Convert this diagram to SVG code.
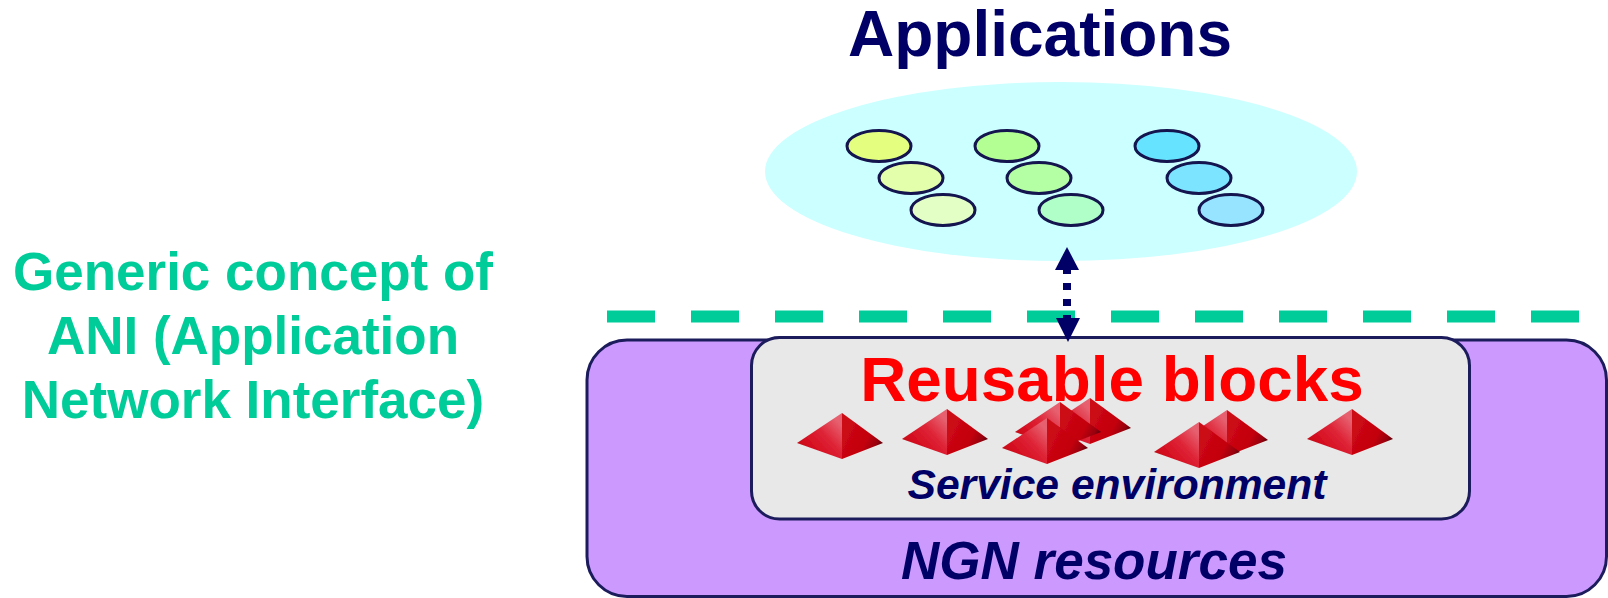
<svg xmlns="http://www.w3.org/2000/svg" width="1608" height="598" viewBox="0 0 1608 598">
<style>
text{font-family:"Liberation Sans",Arial,sans-serif;font-weight:bold}
.navy{fill:#000066}
.green{fill:#00cc99;font-size:53px;text-anchor:middle}
.box{stroke:#1c1c5c;stroke-width:3}
.app{stroke:#14144f;stroke-width:3}
</style>
<defs>
<linearGradient id="gl" x1="0.95" y1="0.25" x2="0.2" y2="0.95"><stop offset="0" stop-color="#e6606f"/><stop offset="0.4" stop-color="#de2436"/><stop offset="0.8" stop-color="#d40c1e"/><stop offset="1" stop-color="#b80814"/></linearGradient>
<linearGradient id="gr" x1="0.1" y1="0.2" x2="1" y2="0.7"><stop offset="0" stop-color="#cc0a16"/><stop offset="0.6" stop-color="#c4000c"/><stop offset="0.85" stop-color="#98000a"/><stop offset="1" stop-color="#4a0006"/></linearGradient>
<filter id="soft" x="-5%" y="-5%" width="110%" height="110%"><feGaussianBlur stdDeviation="0.700"/></filter>
<g id="pyr" filter="url(#soft)">
<path fill="url(#gl)" d="M0 0L-45 30L0 46L1 23Z"/>
<path fill="url(#gr)" d="M0 0L41 30L0 46Z"/>
</g>
</defs>
<rect width="1608" height="598" fill="#fff"/>
<g id="ngn-resources">
<rect class="box" x="587" y="340" width="1019.500" height="256.500" rx="40" fill="#cc99ff"/>
<text class="navy" x="1094" y="579" font-size="53" font-style="italic" text-anchor="middle">NGN resources</text>
</g>
<g id="applications">
<text class="navy" x="1040" y="56" font-size="64" text-anchor="middle">Applications</text>
<ellipse cx="1061" cy="171.500" rx="296" ry="89.500" fill="#ccffff"/>
<ellipse class="app" cx="879" cy="146" rx="32" ry="15.500" fill="#e4ff80"/>
<ellipse class="app" cx="911" cy="178" rx="32" ry="15.500" fill="#e4ffac"/>
<ellipse class="app" cx="943" cy="210" rx="32" ry="15.500" fill="#e4ffc6"/>
<ellipse class="app" cx="1007" cy="146" rx="32" ry="15.500" fill="#b4ff94"/>
<ellipse class="app" cx="1039" cy="178" rx="32" ry="15.500" fill="#b4ffa4"/>
<ellipse class="app" cx="1071" cy="210" rx="32" ry="15.500" fill="#b0ffc8"/>
<ellipse class="app" cx="1167" cy="146" rx="32" ry="15.500" fill="#66e4ff"/>
<ellipse class="app" cx="1199" cy="178" rx="32" ry="15.500" fill="#7ce4ff"/>
<ellipse class="app" cx="1231" cy="210" rx="32" ry="15.500" fill="#96e4ff"/>
</g>
<g id="service-environment">
<rect class="box" x="751.500" y="337.500" width="718" height="181.500" rx="28" fill="#e8e8e8"/>
<text x="1112" y="401" font-size="63.800" fill="#ff0000" text-anchor="middle">Reusable blocks</text>
<use href="#pyr" x="842" y="413"/>
<use href="#pyr" x="947" y="409"/>
<use href="#pyr" x="1090" y="398"/>
<use href="#pyr" x="1060" y="402"/>
<use href="#pyr" x="1047" y="418"/>
<use href="#pyr" x="1227" y="410"/>
<use href="#pyr" x="1199" y="422"/>
<use href="#pyr" x="1352" y="409"/>
<text class="navy" x="1117" y="499" font-size="42.600" font-style="italic" text-anchor="middle">Service environment</text>
</g>
<g id="ani-label">
<text class="green" x="253" y="290">Generic concept of</text>
<text class="green" x="253" y="354">ANI (Application</text>
<text class="green" x="253" y="418">Network Interface)</text>
</g>
<g id="connectors">
<line x1="607" y1="316.500" x2="1579" y2="316.500" stroke="#00cc99" stroke-width="12" stroke-dasharray="48 36"/>
<line x1="1067" y1="268" x2="1067" y2="318" stroke="#000066" stroke-width="8" stroke-dasharray="6 9 7 9 7 9 7"/>
<path d="M1067 247L1079 270H1055Z" fill="#000066"/>
<path d="M1068 342L1080 318H1056Z" fill="#000066"/>
</g>
</svg>
